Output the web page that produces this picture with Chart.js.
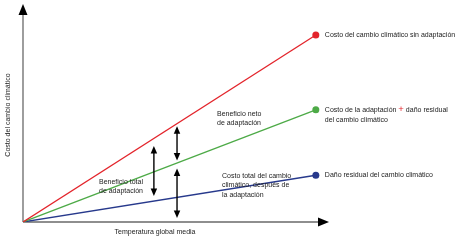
<!DOCTYPE html>
<html>
<head>
<meta charset="utf-8">
<script src="https://cdn.jsdelivr.net/npm/chart.js@4.4.0/dist/chart.umd.min.js"></script>
<style>
  html, body { margin: 0; padding: 0; background: #fff; overflow: hidden; }
  #costChart { display: block; }
</style>
</head>
<body>
<canvas id="costChart" width="462" height="240"></canvas>
<script>
// temperature (x) at start and end of each line
const temps = [0, 10];
const costNoAdapt = [0, 10];      // red
const costWithAdapt = [0, 6];     // green
const residualDamage = [0, 2.5];  // blue

const seriesLabels = [
    ['Costo del cambio climático sin adaptación'],
    ['Costo de la adaptación + daño residual', 'del cambio climático'],
    ['Daño residual del cambio climático']
];
const colors = ['#e3242b', '#4daa47', '#27398c'];
const xTitle = 'Temperatura global media';
const yTitle = 'Costo del cambio climático';

const font = '7px "Liberation Sans", Arial, sans-serif';

function toPoints(vals) {
    return temps.map((t, i) => ({ x: t, y: vals[i] }));
}

function valueAt(vals, x) {
    return vals[0] + (vals[1] - vals[0]) * (x - temps[0]) / (temps[1] - temps[0]);
}

function arrowHead(ctx, x, y, dir, w, len) {
    ctx.beginPath();
    ctx.moveTo(x, y);
    ctx.lineTo(x - w / 2, y - dir * len);
    ctx.lineTo(x + w / 2, y - dir * len);
    ctx.closePath();
    ctx.fill();
}

function doubleArrow(ctx, x, y1, y2) {
    ctx.save();
    ctx.strokeStyle = '#000';
    ctx.fillStyle = '#000';
    ctx.lineWidth = 1.4;
    ctx.beginPath();
    ctx.moveTo(x, y1 + 5);
    ctx.lineTo(x, y2 - 5);
    ctx.stroke();
    arrowHead(ctx, x, y1, -1, 6.5, 7.5);
    arrowHead(ctx, x, y2, 1, 6.5, 7.5);
    ctx.restore();
}

const diagramPlugin = {
    id: 'diagram',
    beforeDatasetsDraw(chart) {
        const ctx = chart.ctx;
        const a = chart.chartArea;
        const x0 = chart.scales.x.getPixelForValue(0);
        const y0 = chart.scales.y.getPixelForValue(0);
        ctx.save();
        ctx.strokeStyle = '#6a6a6a';
        ctx.fillStyle = '#000';
        ctx.lineWidth = 1.3;
        ctx.beginPath();
        ctx.moveTo(x0, y0);
        ctx.lineTo(x0, a.top + 8);
        ctx.moveTo(x0, y0);
        ctx.lineTo(a.right - 8, y0);
        ctx.stroke();
        // axis arrowheads
        ctx.beginPath();
        ctx.moveTo(x0, a.top);
        ctx.lineTo(x0 - 4.5, a.top + 11);
        ctx.lineTo(x0 + 4.5, a.top + 11);
        ctx.closePath();
        ctx.fill();
        ctx.beginPath();
        ctx.moveTo(a.right, y0);
        ctx.lineTo(a.right - 11, y0 - 4.5);
        ctx.lineTo(a.right - 11, y0 + 4.5);
        ctx.closePath();
        ctx.fill();

        // axis titles
        ctx.fillStyle = '#222';
        ctx.font = font;
        ctx.textAlign = 'center';
        ctx.textBaseline = 'middle';
        ctx.fillText(xTitle, 155, 232);
        ctx.save();
        ctx.translate(8, 115);
        ctx.rotate(-Math.PI / 2);
        ctx.fillText(yTitle, 0, 0);
        ctx.restore();
        ctx.restore();
    },
    afterDatasetsDraw(chart) {
        const ctx = chart.ctx;
        const xs = chart.scales.x, ys = chart.scales.y;
        const py = (vals, x) => ys.getPixelForValue(valueAt(vals, x));

        // arrows between the lines
        const xa = 4.47, xb = 5.26;
        doubleArrow(ctx, xs.getPixelForValue(xa), py(costNoAdapt, xa) + 7.5, py(residualDamage, xa) - 5);
        doubleArrow(ctx, xs.getPixelForValue(xb), py(costNoAdapt, xb) + 2.5, py(costWithAdapt, xb) - 2.5);
        doubleArrow(ctx, xs.getPixelForValue(xb), py(costWithAdapt, xb) + 5.5, ys.getPixelForValue(0) - 4);

        ctx.save();
        ctx.font = font;
        ctx.fillStyle = '#222';
        ctx.textAlign = 'left';
        ctx.textBaseline = 'middle';

        // series labels next to the end points
        [costNoAdapt, costWithAdapt, residualDamage].forEach((vals, i) => {
            const meta = chart.getDatasetMeta(i);
            const pt = meta.data[meta.data.length - 1];
            const lx = pt.x + 9;
            seriesLabels[i].forEach((line, j) => {
                const ly = pt.y + j * 10;
                if (line.includes('+')) {
                    const parts = line.split('+');
                    ctx.fillStyle = '#222';
                    ctx.fillText(parts[0], lx, ly);
                    let w = ctx.measureText(parts[0]).width;
                    ctx.fillStyle = '#e3242b';
                    ctx.font = '9.5px "Liberation Sans", Arial, sans-serif';
                    ctx.fillText('+', lx + w, ly);
                    const pw = ctx.measureText('+').width;
                    ctx.font = font;
                    ctx.fillStyle = '#222';
                    ctx.fillText(parts[1], lx + w + pw, ly);
                } else {
                    ctx.fillStyle = '#222';
                    ctx.fillText(line, lx, ly);
                }
            });
        });

        // annotation texts
        ctx.fillStyle = '#222';
        ['Beneficio neto', 'de adaptación'].forEach((t, i) => ctx.fillText(t, 217, 114 + i * 9.5));
        ['Beneficio total', 'de adaptación'].forEach((t, i) => ctx.fillText(t, 99, 182 + i * 9.5));
        ['Costo total del cambio', 'climático, después de', 'la adaptación'].forEach((t, i) => ctx.fillText(t, 222, 176 + i * 9.5));
        ctx.restore();
    }
};

const ctx = document.getElementById('costChart').getContext('2d');
const chart = new Chart(ctx, {
    type: 'line',
    data: {
        datasets: [costNoAdapt, costWithAdapt, residualDamage].map((vals, i) => ({
            label: seriesLabels[i].join(' '),
            data: toPoints(vals),
            borderColor: colors[i],
            backgroundColor: colors[i],
            borderWidth: 1.3,
            pointRadius: [0, 3.5],
            pointBorderWidth: 0,
            fill: false,
            tension: 0
        }))
    },
    plugins: [diagramPlugin],
    options: {
        responsive: false,
        animation: false,
        layout: { padding: { left: 23, right: 133, top: 4, bottom: 18 } },
        plugins: {
            legend: { display: false },
            tooltip: { enabled: false }
        },
        scales: {
            x: { type: 'linear', min: 0, max: 10.45, display: false },
            y: { min: 0, max: 11.66, display: false }
        }
    }
});
</script>
</body>
</html>
